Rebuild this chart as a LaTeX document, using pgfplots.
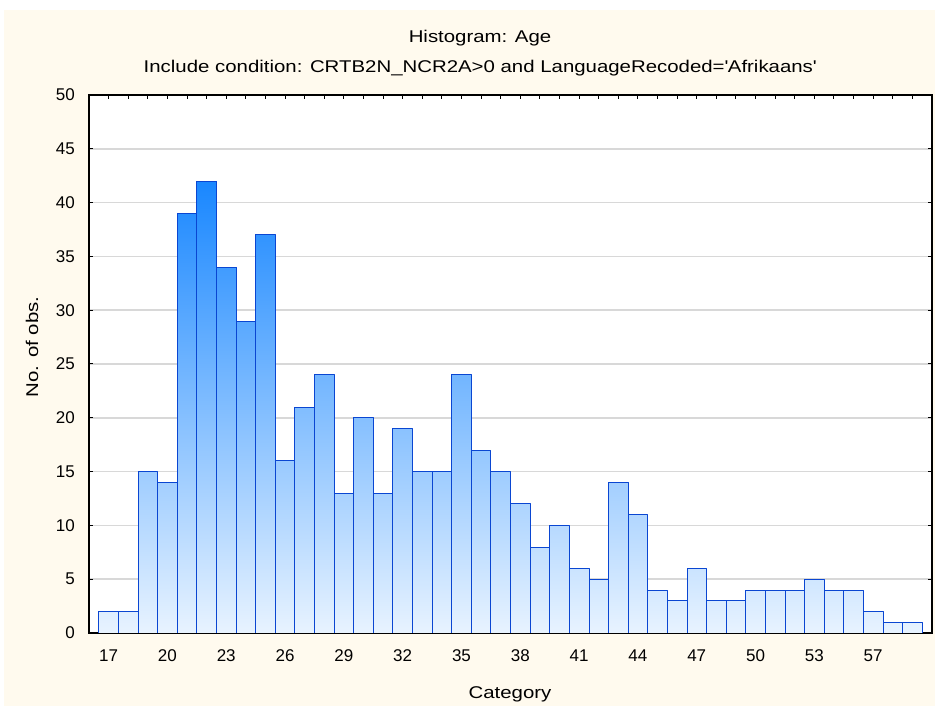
\documentclass[border=0pt]{standalone}
\usepackage{fontspec}
\setmainfont{Liberation Sans}
\newfontfamily\wide[FakeStretch=1.2]{Liberation Sans}
\usepackage{pgfplots}
\pgfplotsset{compat=1.18}
\usepgfplotslibrary{patchplots}
\definecolor{cream}{RGB}{255,250,238}
\definecolor{edge}{RGB}{10,70,210}
\definecolor{gridc}{RGB}{216,216,216}
\begin{document}
\begin{tikzpicture}[x=1pt,y=1pt]
\useasboundingbox (0,0) rectangle (935,711);
\fill[white] (0,0) rectangle (935,711);
\fill[cream] (4,5) rectangle (935,701);
\node[anchor=base, inner sep=0pt, font=\fontsize{17}{20}\wide] at (480,668) {Histogram: Age};
\node[anchor=base, inner sep=0pt, font=\fontsize{17}{20}\wide] at (480,638) {Include condition: CRTB2N\_NCR2A>0 and LanguageRecoded=\textquotesingle Afrikaans\textquotesingle};
\node[anchor=base, inner sep=0pt, font=\fontsize{17}{20}\wide] at (510,12) {Category};
\node[anchor=base, rotate=90, inner sep=0pt, font=\fontsize{17}{20}\wide] at (38,364) {No. of obs.};
\begin{axis}[
  at={(89pt,78pt)}, anchor=south west, scale only axis,
  width=843pt, height=538pt,
  xmin=16, xmax=59, ymin=0, ymax=50,
  axis background/.style={fill=white},
  xtick={17,20,...,56},
  xticklabels={17,20,23,26,29,32,35,38,41,44,47,50,53,57},
  minor xtick={17,...,58},
  ytick={0,5,...,50},
  tick align=inside, tick pos=both,
  major tick length=4pt, minor tick length=4pt,
  every tick/.style={black, line width=1pt},
  axis line style={black, line width=1.5pt},
  ymajorgrids, grid style={gridc, line width=1.5pt},
  /pgf/number format/assume math mode=true,
  ticklabel style={font=\fontsize{17}{20}\selectfont, inner sep=0pt},
  xticklabel style={anchor=base, yshift=-29pt},
  yticklabel style={anchor=east, xshift=-14pt},
  colormap={bars}{rgb255=(232,243,255) rgb255=(25,135,255)},
  point meta min=0, point meta max=42,
]
\addplot[patch, patch type=rectangle, shader=faceted interp, faceted color=edge, line width=0.8pt, point meta=y] coordinates {
(16.5,0) (17.5,0) (17.5,2) (16.5,2)
(17.5,0) (18.5,0) (18.5,2) (17.5,2)
(18.5,0) (19.5,0) (19.5,15) (18.5,15)
(19.5,0) (20.5,0) (20.5,14) (19.5,14)
(20.5,0) (21.5,0) (21.5,39) (20.5,39)
(21.5,0) (22.5,0) (22.5,42) (21.5,42)
(22.5,0) (23.5,0) (23.5,34) (22.5,34)
(23.5,0) (24.5,0) (24.5,29) (23.5,29)
(24.5,0) (25.5,0) (25.5,37) (24.5,37)
(25.5,0) (26.5,0) (26.5,16) (25.5,16)
(26.5,0) (27.5,0) (27.5,21) (26.5,21)
(27.5,0) (28.5,0) (28.5,24) (27.5,24)
(28.5,0) (29.5,0) (29.5,13) (28.5,13)
(29.5,0) (30.5,0) (30.5,20) (29.5,20)
(30.5,0) (31.5,0) (31.5,13) (30.5,13)
(31.5,0) (32.5,0) (32.5,19) (31.5,19)
(32.5,0) (33.5,0) (33.5,15) (32.5,15)
(33.5,0) (34.5,0) (34.5,15) (33.5,15)
(34.5,0) (35.5,0) (35.5,24) (34.5,24)
(35.5,0) (36.5,0) (36.5,17) (35.5,17)
(36.5,0) (37.5,0) (37.5,15) (36.5,15)
(37.5,0) (38.5,0) (38.5,12) (37.5,12)
(38.5,0) (39.5,0) (39.5,8) (38.5,8)
(39.5,0) (40.5,0) (40.5,10) (39.5,10)
(40.5,0) (41.5,0) (41.5,6) (40.5,6)
(41.5,0) (42.5,0) (42.5,5) (41.5,5)
(42.5,0) (43.5,0) (43.5,14) (42.5,14)
(43.5,0) (44.5,0) (44.5,11) (43.5,11)
(44.5,0) (45.5,0) (45.5,4) (44.5,4)
(45.5,0) (46.5,0) (46.5,3) (45.5,3)
(46.5,0) (47.5,0) (47.5,6) (46.5,6)
(47.5,0) (48.5,0) (48.5,3) (47.5,3)
(48.5,0) (49.5,0) (49.5,3) (48.5,3)
(49.5,0) (50.5,0) (50.5,4) (49.5,4)
(50.5,0) (51.5,0) (51.5,4) (50.5,4)
(51.5,0) (52.5,0) (52.5,4) (51.5,4)
(52.5,0) (53.5,0) (53.5,5) (52.5,5)
(53.5,0) (54.5,0) (54.5,4) (53.5,4)
(54.5,0) (55.5,0) (55.5,4) (54.5,4)
(55.5,0) (56.5,0) (56.5,2) (55.5,2)
(56.5,0) (57.5,0) (57.5,1) (56.5,1)
(57.5,0) (58.5,0) (58.5,1) (57.5,1)
};
\end{axis}
\end{tikzpicture}
\end{document}
